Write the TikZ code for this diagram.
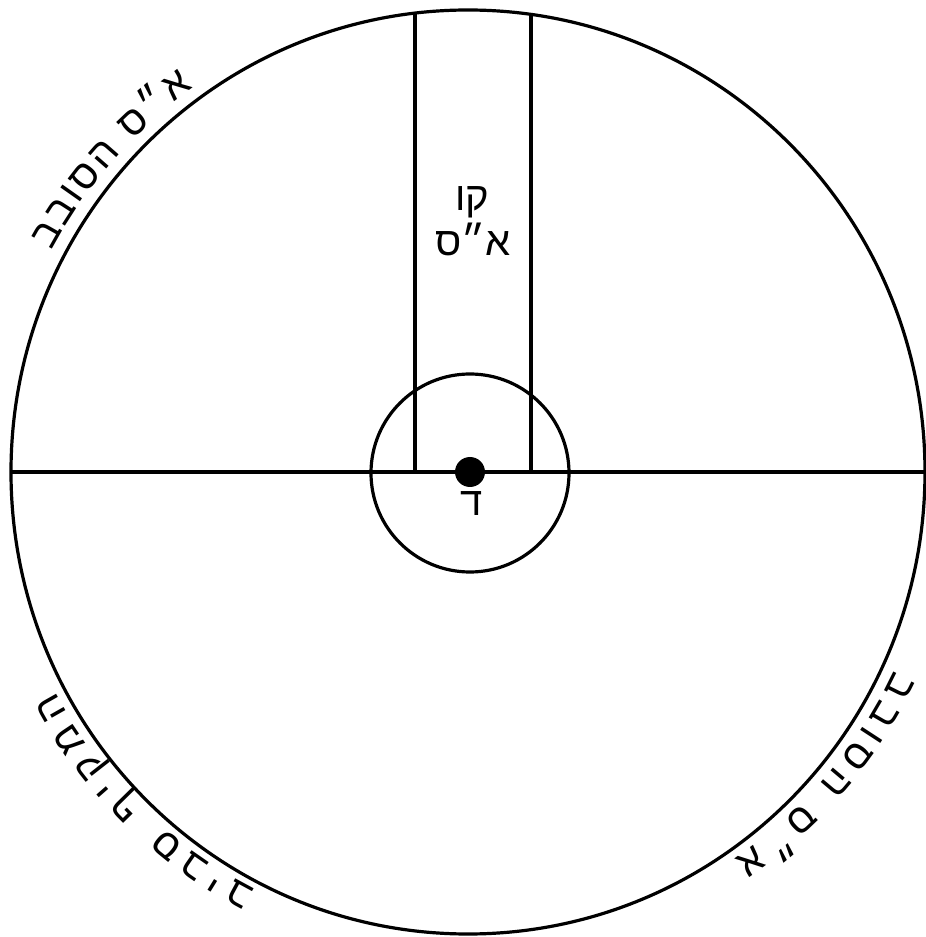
\documentclass[tikz,border=0pt]{standalone}
\usepackage{fontspec}
\usetikzlibrary{decorations.text}
\newfontfamily\hebfont[Script=Hebrew]{Liberation Sans}
\TeXXeTstate=1
\newcommand{\rimfont}{\hebfont\fontsize{20}{24}\selectfont}
\tikzstyle{outline} = [line width=1.6pt, draw=black]
\tikzstyle{hebtext} = [font=\rimfont, inner sep=0pt, anchor=base]
\tikzstyle{rimtext} = [decorate, decoration={text along path, text align=fit to path}]

\begin{document}
\begin{tikzpicture}[x=0.5pt, y=0.5pt]

% Frame
\useasboundingbox (-468,-465) rectangle (458,472);

% Centre and point
\coordinate (centre) at (0,0);
\coordinate (pt) at (2,0);

% Outer circle
\draw [outline] (centre) ellipse [x radius=457, y radius=462];

% Horizontal line
\coordinate (west) at (-457,0);
\coordinate (east) at (457,0);
\draw [outline] (west) -- (east);

% Kav strip
\coordinate (kavlb) at (-53,0);
\coordinate (kavlt) at (-53,459);
\coordinate (kavrb) at (63,0);
\coordinate (kavrt) at (63,457.6);
\draw [outline] (kavlb) -- (kavlt);
\draw [outline] (kavrb) -- (kavrt);

% Inner circle
\draw [outline] (2,-1) circle (99);

% Point
\fill (pt) circle (15);

% Labels in the middle
\node (kav) [hebtext] at (4,261) {\beginR קו\endR};
\node (einsof) [hebtext] at (5,216) {\beginR א״ס\endR};
\node (dalet) [hebtext] at (4,-44) {ד};

% Texts round the rim (letters laid one by one, so given in reverse)
\path [rimtext, decoration={text={|\rimfont|בבוסה ס״א}}] (152:472) arc [start angle=152, end angle=125.5, radius=472];
\path [rimtext, decoration={text={|\rimfont|ביבס ףיקמה}}] (243:468) arc [start angle=243, end angle=208, radius=468];
\path [rimtext, decoration={text={|\rimfont|בבוסה ס״א}}] (335:470) arc [start angle=335, end angle=304.5, radius=470];

\end{tikzpicture}
\end{document}
